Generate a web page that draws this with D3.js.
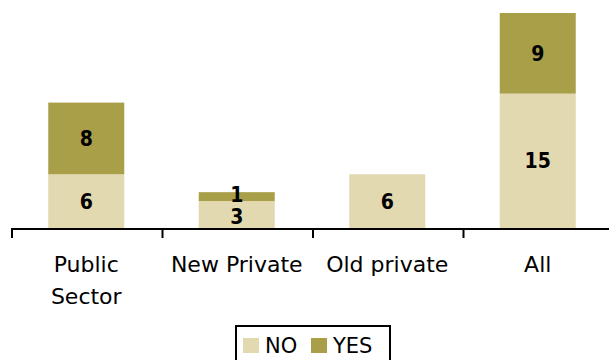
<!DOCTYPE html>
<html>
<head>
<meta charset="utf-8">
<script src="https://cdn.jsdelivr.net/npm/d3@7"></script>
<style>
  html, body { margin: 0; padding: 0; background: #fff; }
  svg { display: block; font-family: "DejaVu Sans", sans-serif; }
</style>
</head>
<body>
<svg id="chart" width="609" height="360"></svg>
<script>
// Categories and counts per answer
const categories = ["Public Sector", "New Private", "Old private", "All"];
const tickLabels = [["Public", "Sector"], ["New Private"], ["Old private"], ["All"]];
const noValues = [6, 3, 6, 15];
const yesValues = [8, 1, 0, 9];
const seriesNames = ["NO", "YES"];
const seriesColors = ["#E3D9B1", "#A89F48"];

const svg = d3.select("#chart");
const plot = { left: 11, right: 613, top: 13, bottom: 228 };

const x = d3.scaleBand()
  .domain(categories)
  .range([plot.left, plot.right])
  .paddingInner(0.495)
  .paddingOuter(0.2475);

const y = d3.scaleLinear()
  .domain([0, 24])
  .range([plot.bottom, plot.top]);

// Stack the two series per category
const rows = categories.map((c, i) => ({ cat: c, NO: noValues[i], YES: yesValues[i] }));
const stacked = d3.stack().keys(seriesNames)(rows);

const segments = [];
stacked.forEach((layer, li) => {
  layer.forEach(p => {
    if (p[1] - p[0] > 0) {
      segments.push({ cat: p.data.cat, layer: li, y0: p[0], y1: p[1], value: p[1] - p[0] });
    }
  });
});

svg.append("g").selectAll("rect")
  .data(segments)
  .join("rect")
  .attr("x", d => x(d.cat))
  .attr("width", x.bandwidth())
  .attr("y", d => y(d.y1))
  .attr("height", d => y(d.y0) - y(d.y1))
  .attr("fill", d => seriesColors[d.layer]);

// Value labels centred in each segment; labels in the same bar that
// would collide are pushed apart symmetrically.
const minGap = 22;
segments.forEach(s => { s.ly = (y(s.y0) + y(s.y1)) / 2; });
categories.forEach(c => {
  const inBar = segments.filter(s => s.cat === c).sort((a, b) => b.ly - a.ly);
  for (let i = 1; i < inBar.length; i++) {
    const lower = inBar[i - 1], upper = inBar[i];
    const gap = lower.ly - upper.ly;
    if (gap < minGap) {
      const push = (minGap - gap) / 2;
      lower.ly += push;
      upper.ly -= push;
    }
  }
});

svg.append("g").selectAll("text")
  .data(segments)
  .join("text")
  .attr("x", d => x(d.cat) + x.bandwidth() / 2)
  .attr("y", d => d.ly)
  .attr("dy", "0.36em")
  .attr("text-anchor", "middle")
  .attr("fill", "#000")
  .attr("font-family", "'DejaVu Sans Condensed', 'DejaVu Sans', sans-serif")
  .attr("font-size", 21)
  .attr("font-weight", "bold")
  .text(d => d.value);

// Category axis: baseline with ticks at band boundaries
const axisG = svg.append("g");
axisG.append("line")
  .attr("x1", plot.left).attr("x2", plot.right)
  .attr("y1", y(0) + 1).attr("y2", y(0) + 1)
  .attr("stroke", "#000").attr("stroke-width", 2);

const boundaries = d3.range(categories.length + 1).map(i => plot.left + i * x.step());
axisG.selectAll("line.tick")
  .data(boundaries)
  .join("line")
  .attr("class", "tick")
  .attr("x1", d => d + 1).attr("x2", d => d + 1)
  .attr("y1", y(0)).attr("y2", y(0) + 10)
  .attr("stroke", "#000").attr("stroke-width", 2);

axisG.selectAll("text.cat")
  .data(categories)
  .join("text")
  .attr("class", "cat")
  .attr("x", d => x(d) + x.bandwidth() / 2)
  .attr("y", 272)
  .attr("text-anchor", "middle")
  .attr("font-size", 22)
  .attr("fill", "#000")
  .each(function (d, i) {
    d3.select(this).selectAll("tspan")
      .data(tickLabels[i])
      .join("tspan")
      .attr("x", x(d) + x.bandwidth() / 2)
      .attr("dy", (t, j) => j === 0 ? 0 : 32)
      .text(t => t);
  });

// Legend
const legend = svg.append("g").attr("transform", "translate(236,326)");
legend.append("rect")
  .attr("x", 0).attr("y", 0)
  .attr("width", 154).attr("height", 40)
  .attr("fill", "#fff").attr("stroke", "#000").attr("stroke-width", 2);

const itemX = [7, 75];
const items = legend.selectAll("g.item")
  .data(seriesNames)
  .join("g")
  .attr("class", "item")
  .attr("transform", (d, i) => `translate(${itemX[i]},0)`);
items.append("rect")
  .attr("x", 0).attr("y", 12)
  .attr("width", 16).attr("height", 15)
  .attr("fill", (d, i) => seriesColors[i]);
items.append("text")
  .attr("x", 22).attr("y", 27)
  .attr("font-size", 21)
  .attr("fill", "#000")
  .text(d => d);
</script>
</body>
</html>
